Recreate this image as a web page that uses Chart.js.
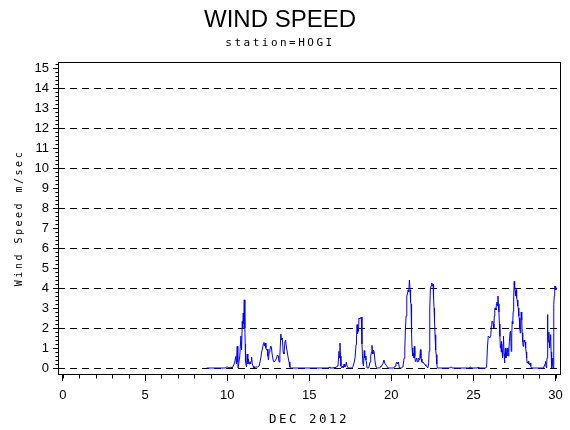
<!DOCTYPE html>
<html>
<head>
<meta charset="utf-8">
<title>Wind Speed - HOGI</title>
<script src="https://cdn.jsdelivr.net/npm/chart.js@4/dist/chart.umd.min.js"></script>
<style>
  body { margin: 0; background: #fff; }
  canvas { display: block; }
</style>
</head>
<body>
<canvas id="wind-chart" width="570" height="430"></canvas>
<script>
/***** Data *****/
// Day of month (Dec 2012) for each reading
const days = [
  8.75, 9.9, 9.95, 10.05, 10.1, 10.25, 10.3, 10.37, 10.45, 10.53, 10.57, 10.61, 10.65, 10.67, 10.72,
  10.77, 10.84, 10.88, 10.92, 10.95, 10.98, 11.01, 11.04, 11.08, 11.1, 11.12, 11.18, 11.22, 11.26,
  11.3, 11.34, 11.38, 11.42, 11.46, 11.49, 11.53, 11.58, 11.63, 11.75, 11.85, 11.95, 12.05, 12.1,
  12.16, 12.2, 12.24, 12.28, 12.32, 12.36, 12.4, 12.44, 12.48, 12.52, 12.56, 12.6, 12.66, 12.7,
  12.74, 12.8, 12.86, 12.92, 13.01, 13.06, 13.12, 13.16, 13.21, 13.27, 13.31, 13.36, 13.41, 13.46,
  13.52, 13.56, 13.6, 13.66, 13.72, 13.77, 13.82, 13.85,
  16.15, 16.22, 16.26, 16.45, 16.5, 16.55, 16.75, 16.81, 16.84, 16.87, 16.9, 16.93, 16.98, 17.04,
  17.08, 17.12, 17.16, 17.22, 17.26, 17.3, 17.38, 17.6, 17.68, 17.74, 17.79, 17.85, 17.88, 17.91,
  17.94, 17.97, 18.0, 18.03, 18.07, 18.11, 18.17, 18.21, 18.26, 18.3, 18.35, 18.38, 18.41, 18.45,
  18.48, 18.52, 18.62, 18.7, 18.73, 18.76, 18.79, 18.82, 18.85, 18.88, 18.91, 18.95, 19.01, 19.07,
  19.15, 19.3, 19.37, 19.42, 19.48, 19.55, 19.6, 19.63, 19.72, 19.8, 20.15, 20.23, 20.28, 20.33,
  20.38, 20.43, 20.49, 20.6, 20.7, 20.78, 20.82, 20.86, 20.9, 20.94, 20.98, 21.02, 21.06, 21.1,
  21.14, 21.17, 21.2, 21.23, 21.26, 21.3, 21.34, 21.37, 21.4, 21.43, 21.46, 21.5, 21.55, 21.59,
  21.63, 21.67, 21.71, 21.74, 21.77, 21.8, 21.83, 21.86, 21.89, 21.95, 22.0, 22.05, 22.1, 22.16,
  22.22, 22.27, 22.3, 22.34, 22.38, 22.42, 22.46, 22.5, 22.54, 22.57, 22.6, 22.63, 22.66, 22.7,
  22.73, 22.77, 22.8,
  23.55, 23.6, 23.66, 23.7, 24.74, 24.78, 24.84, 24.88, 25.25, 25.28, 25.32, 25.75, 25.8, 25.85,
  25.9, 25.94, 26.0, 26.03, 26.06, 26.09, 26.12, 26.15, 26.18, 26.21, 26.24, 26.27, 26.3, 26.34,
  26.37, 26.4, 26.43, 26.46, 26.49, 26.52, 26.55, 26.58, 26.61, 26.64, 26.67, 26.69, 26.71, 26.74,
  26.77, 26.8, 26.83, 26.86, 26.89, 26.92, 26.95, 26.98, 27.01, 27.04, 27.07, 27.1, 27.13, 27.16,
  27.19, 27.23, 27.26, 27.3, 27.33, 27.36, 27.39, 27.42, 27.45, 27.48, 27.51, 27.54, 27.57, 27.6,
  27.63, 27.66, 27.7, 27.73, 27.76, 27.79, 27.82, 27.85, 27.88, 27.91, 27.94, 27.97, 28.0, 28.03,
  28.06, 28.09, 28.12, 28.15, 28.18, 28.21, 28.24, 28.27, 28.3, 28.34, 28.37, 28.4, 28.43, 28.46,
  28.49, 28.52, 29.27, 29.3, 29.33, 29.36, 29.39, 29.42, 29.45, 29.48, 29.51, 29.53, 29.55, 29.58,
  29.6, 29.62, 29.64, 29.67, 29.7, 29.73, 29.76, 29.8, 29.82, 29.84, 29.86, 29.88, 29.9, 29.92,
  29.94, 29.96, 29.98, 30.01, 30.04,
];

// Wind speed in m/sec, one per entry of days
const speeds = [
  0, 0, 0.05, 0.05, 0, 0.05, 0, 0.1, 0.25, 0.58, 0.2, 1.08, 0.3, 0, 0,
  0.6, 1.6, 0.9, 2.33, 2.0, 2.75, 2.2, 3.41, 2.0, 1.2, 0.3, 0.05, 0.7, 0.2,
  0.45, 0.2, 0.3, 0.2, 0.35, 0.55, 0.2, 0.1, 0, 0.05, 0.05, 0.1, 0.5, 0.8,
  1.0, 1.2, 1.28, 1.1, 1.25, 1.0, 0.9, 0.95, 0.6, 0.4, 0.8, 0.9, 1.1, 1.0,
  0.7, 0.4, 0.3, 0.35, 0.5, 0.65, 0.6, 0.3, 0.6, 1.7, 1.4, 1.5, 0.8, 0.7,
  1.3, 1.4, 1.1, 0.8, 0.5, 0.3, 0.05, 0,
  0, 0.05, 0, 0, 0.05, 0, 0.1, 0.83, 0.5, 1.25, 0.6, 0.1, 0, 0.1,
  0, 0.2, 0.05, 0.1, 0.3, 0.1, 0, 0, 0.1, 0.3, 0.5, 1.17, 1.5, 2.17,
  1.7, 1.83, 1.9, 2.5, 2.45, 2.5, 2.55, 1.2, 0.3, 0.1, 0.87, 0.5, 0.6, 0.4,
  0.3, 0, 0, 0.3, 0.55, 0.6, 0.8, 1.13, 0.8, 0.7, 0.9, 0.8, 0.3, 0.05,
  0, 0, 0.1, 0.15, 0.2, 0.4, 0.25, 0.2, 0.1, 0, 0, 0.1, 0.2, 0.3,
  0.2, 0.3, 0, 0, 0.05, 0.5, 1.0, 2.0, 2.6, 3.6, 3.7, 3.9, 3.8, 4.4,
  3.9, 3.3, 3.2, 1.8, 1.0, 0.6, 0.75, 0.5, 1.08, 0.6, 0.33, 0.4, 0.5, 0.3,
  0.33, 0.5, 0.42, 0.6, 0.92, 0.5, 0.45, 0.3, 0.25, 0.3, 0.2, 0.17, 0.1, 0.08,
  0, 0.2, 0.83, 3.0, 4.0, 4.1, 4.25, 4.1, 4.2, 3.5, 3.0, 2.3, 1.67, 0.9,
  0.67, 0.2, 0,
  0, 0.05, 0.05, 0, 0, 0.05, 0.05, 0, 0, 0.05, 0, 0, 0.05, 1.0,
  1.6, 1.6, 1.5, 1.6, 1.67, 2.1, 2.33, 2.3, 2.33, 2.2, 2.0, 2.6, 3.0, 3.0,
  2.9, 3.2, 3.3, 3.1, 3.6, 3.2, 2.8, 2.2, 1.58, 1.0, 1.17, 0.8, 1.33, 0.9,
  0.5, 1.2, 1.6, 0.7, 0.25, 0.6, 1.0, 0.5, 0.8, 0.6, 1.0, 0.8, 0.6, 1.0,
  1.33, 1.8, 1.83, 0.83, 1.6, 2.33, 2.2, 2.83, 3.5, 4.33, 4.0, 3.83, 3.6, 3.92,
  3.5, 3.4, 3.1, 3.0, 2.6, 2.5, 2.0, 1.75, 2.2, 2.8, 2.4, 1.75, 1.3, 1.08,
  1.2, 1.4, 1.3, 1.3, 1.0, 0.8, 0.5, 0.25, 0.3, 0.33, 0.2, 0.17, 0.2, 0.25,
  0.1, 0, 0, 0.1, 0.17, 0.2, 0.33, 0.1, 0, 0.5, 2.67, 1.8, 1.3, 1.5,
  1.8, 1.3, 1.0, 1.4, 1.67, 0.8, 0, 0.2, 0.5, 0.2, 0, 1.5, 3.17, 3.6,
  4.0, 4.1, 4.08, 3.9, 4.0,
];

// Axis tick labels
const xTicks = [0, 5, 10, 15, 20, 25, 30];
const yTicks = [0, 1, 2, 3, 4, 5, 6, 7, 8, 9, 10, 11, 12, 13, 14, 15];

/***** Helpers *****/
// Mono fonts get the wide SAS-style letter spacing, everything else stays normal
const spaceMonoText = (ctx) => {
  ["fillText", "measureText"].forEach((name) => {
    const orig = ctx[name].bind(ctx);
    ctx[name] = (...args) => {
      ctx.letterSpacing = ctx.font.includes("Mono") ? "2.5px" : "0px";
      return orig(...args);
    };
  });
};

// Draws the box round the plot and the small minor ticks
const frameTicks = {
  id: "frameTicks",
  afterDraw: (chart) => {
    const { ctx, chartArea: a, scales } = chart;
    const crisp = (v) => Math.round(v) + 0.5;
    ctx.save();
    ctx.strokeStyle = "#000";
    ctx.lineWidth = 1;
    ctx.setLineDash([]);
    ctx.strokeRect(crisp(a.left), crisp(a.top), Math.round(a.right - a.left), Math.round(a.bottom - a.top));
    ctx.beginPath();
    // one minor tick per day
    for (let d = 0; d <= 30; d++) {
      const px = crisp(scales.x.getPixelForValue(d));
      ctx.moveTo(px, crisp(a.bottom));
      ctx.lineTo(px, crisp(a.bottom) + 4);
    }
    // minor ticks every 0.2 m/sec
    for (let i = 0; i <= 76; i++) {
      const py = crisp(scales.y.getPixelForValue(i * 0.2));
      ctx.moveTo(crisp(a.left), py);
      ctx.lineTo(crisp(a.left) - 3, py);
    }
    ctx.stroke();
    ctx.restore();
  },
};

/***** Chart *****/
const canvas = document.querySelector("#wind-chart");
const ctx = canvas.getContext("2d");
spaceMonoText(ctx);

const tickFont = { family: "'Liberation Sans', Arial, sans-serif", size: 13 };
const monoFamily = "'DejaVu Sans Mono', monospace";

new Chart(ctx, {
  type: "line",
  data: {
    datasets: [
      {
        data: days.map((d, i) => ({ x: d, y: speeds[i] })),
        borderColor: "#0000ff",
        borderWidth: 1,
        pointRadius: 0,
        tension: 0,
        fill: false,
      },
    ],
  },
  options: {
    responsive: false,
    animation: false,
    layout: { padding: { left: 0, right: 10, top: 0, bottom: 0 } },
    plugins: {
      legend: { display: false },
      tooltip: { enabled: false },
      title: {
        display: true,
        text: "WIND SPEED",
        color: "#000",
        font: { family: "'Liberation Sans', Arial, sans-serif", size: 24, weight: "normal" },
        padding: { top: 6, bottom: 0 },
      },
      subtitle: {
        display: true,
        text: "station=HOGI",
        color: "#000",
        font: { family: monoFamily, size: 11 },
        padding: { top: 2, bottom: 12 },
      },
    },
    scales: {
      x: {
        type: "linear",
        min: -0.3,
        max: 30.27,
        afterBuildTicks: (scale) => {
          scale.ticks = xTicks.map((v) => ({ value: v }));
        },
        afterFit: (scale) => {
          scale.height = 56;
        },
        grid: { drawOnChartArea: false, tickLength: 7, tickColor: "#000" },
        border: { display: false },
        ticks: { color: "#000", font: tickFont, padding: 7, maxRotation: 0, autoSkip: false, z: 1 },
        title: {
          display: true,
          text: "DEC 2012",
          color: "#000",
          font: { family: monoFamily, size: 12.5 },
          padding: { top: 0, bottom: 3 },
        },
      },
      y: {
        type: "linear",
        min: -0.3,
        max: 15.3,
        afterBuildTicks: (scale) => {
          scale.ticks = yTicks.map((v) => ({ value: v }));
        },
        afterFit: (scale) => {
          scale.width = 58;
        },
        grid: {
          color: (c) => (c.tick && c.tick.value % 2 === 0 ? "#000" : "rgba(0,0,0,0)"),
          tickColor: "#000",
          tickLength: 5,
        },
        border: { display: false, dash: [7, 5] },
        ticks: { color: "#000", font: tickFont, padding: 4, autoSkip: false, z: 1 },
        title: {
          display: true,
          text: "Wind Speed m/sec",
          color: "#000",
          font: { family: monoFamily, size: 10 },
          padding: { top: 13, bottom: 0 },
        },
      },
    },
  },
  plugins: [frameTicks],
});
</script>
</body>
</html>
